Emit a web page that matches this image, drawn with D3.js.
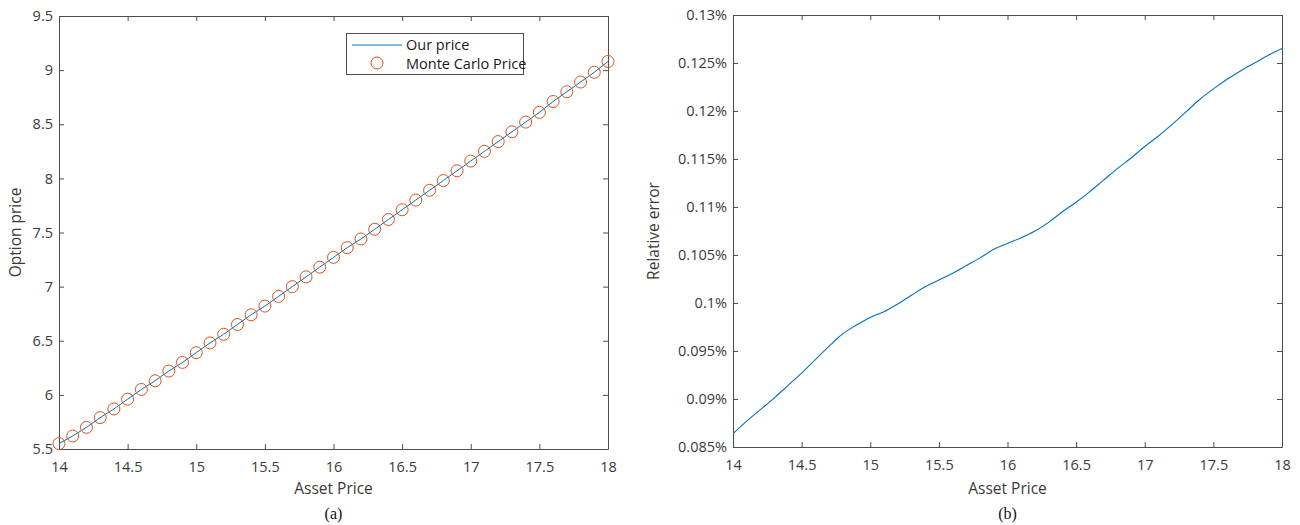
<!DOCTYPE html>
<html><head><meta charset="utf-8">
<script src="https://cdn.jsdelivr.net/npm/d3@7"></script>
<style>
html,body{margin:0;padding:0;background:#fff;}
svg{display:block;}
text{font-family:"Open Sans",sans-serif;}
</style></head>
<body>
<svg id="chart" width="1300" height="525"></svg>
<script>
const assetPrice = [14.0,14.1,14.2,14.3,14.4,14.5,14.6,14.7,14.8,14.9,15.0,15.1,15.2,15.3,15.4,15.5,15.6,15.7,15.8,15.9,16.0,16.1,16.2,16.3,16.4,16.5,16.6,16.7,16.8,16.9,17.0,17.1,17.2,17.3,17.4,17.5,17.6,17.7,17.8,17.9,18.0];
const ourPrice = [5.55,5.62,5.70,5.79,5.87,5.96,6.05,6.13,6.22,6.30,6.39,6.48,6.56,6.65,6.74,6.82,6.91,7.00,7.09,7.18,7.27,7.36,7.44,7.53,7.62,7.71,7.80,7.89,7.98,8.07,8.16,8.25,8.34,8.43,8.52,8.61,8.71,8.80,8.89,8.98,9.08];
const monteCarloPrice = [5.55,5.62,5.70,5.79,5.87,5.96,6.05,6.13,6.22,6.30,6.39,6.48,6.56,6.65,6.74,6.82,6.91,7.00,7.09,7.18,7.27,7.36,7.44,7.53,7.62,7.71,7.80,7.89,7.98,8.07,8.16,8.25,8.34,8.43,8.52,8.61,8.71,8.80,8.89,8.98,9.08];
const relativeError = [0.0864,0.0877,0.0889,0.0901,0.0914,0.0927,0.0941,0.0955,0.0968,0.0977,0.0985,0.0991,0.0999,0.1008,0.1017,0.1024,0.1031,0.1039,0.1047,0.1056,0.1062,0.1068,0.1075,0.1084,0.1095,0.1105,0.1116,0.1128,0.1140,0.1151,0.1163,0.1174,0.1186,0.1199,0.1212,0.1223,0.1233,0.1242,0.1250,0.1258,0.1265];
const xTicks = [14,14.5,15,15.5,16,16.5,17,17.5,18];
const yTicksA = [5.5,6,6.5,7,7.5,8,8.5,9,9.5];
const yTicksB = [0.085,0.09,0.095,0.1,0.105,0.11,0.115,0.12,0.125,0.13];
const legendLabels = ["Our price","Monte Carlo Price"];
const panelLabels = ["(a)","(b)"];

const svg = d3.select("#chart");
const axisColor = "#4d4d4d", textColor = "#3a3a3a";
const blue = "#0072BD", orange = "#D95319";

function panel(cfg){
  const g = svg.append("g");
  const x = d3.scaleLinear().domain([14,18]).range([cfg.left, cfg.right]);
  const y = d3.scaleLinear().domain(cfg.ydom).range([cfg.bottom, cfg.top]);
  const tl = 5;
  const bottom = g.append("g").attr("transform",`translate(0,${cfg.bottom})`)
    .call(d3.axisBottom(x).tickValues(xTicks).tickFormat(d3.format("~g")).tickSizeInner(-tl).tickSizeOuter(0).tickPadding(13));
  const top = g.append("g").attr("transform",`translate(0,${cfg.top})`)
    .call(d3.axisTop(x).tickValues(xTicks).tickFormat("").tickSizeInner(-tl).tickSizeOuter(0));
  const left = g.append("g").attr("transform",`translate(${cfg.left},0)`)
    .call(d3.axisLeft(y).tickValues(cfg.yticks).tickFormat(cfg.yfmt).tickSizeInner(-tl).tickSizeOuter(0).tickPadding(6));
  const right = g.append("g").attr("transform",`translate(${cfg.right},0)`)
    .call(d3.axisRight(y).tickValues(cfg.yticks).tickFormat("").tickSizeInner(-tl).tickSizeOuter(0));
  [bottom,top,left,right].forEach(a=>{
    a.select(".domain").attr("stroke",axisColor).attr("stroke-width",1);
    a.selectAll(".tick line").attr("stroke",axisColor);
    a.selectAll(".tick text").attr("fill",textColor).style("font-size","14.5px").style("font-family","'Open Sans',sans-serif");
  });
  g.append("text").attr("x",(cfg.left+cfg.right)/2).attr("y",494).attr("text-anchor","middle")
    .attr("fill",textColor).style("font-size","15.5px").text("Asset Price");
  g.append("text").attr("transform",`translate(${cfg.ylabX},${(cfg.top+cfg.bottom)/2}) rotate(-90)`)
    .attr("text-anchor","middle").attr("fill",textColor).style("font-size","15.5px").text(cfg.ylabel);
  g.append("text").attr("x",(cfg.left+cfg.right)/2).attr("y",519).attr("text-anchor","middle")
    .attr("fill","#111").style("font-family","'Liberation Serif',serif").style("font-size","16px").text(cfg.panel);
  return {g,x,y};
}

const A = panel({left:59,right:608,top:16,bottom:449,ydom:[5.5,9.5],yticks:yTicksA,yfmt:d3.format("~g"),ylabel:"Option price",ylabX:21,panel:panelLabels[0]});
const lineA = d3.line().x((d,i)=>A.x(assetPrice[i])).y(d=>A.y(d));
A.g.append("path").datum(ourPrice).attr("d",lineA).attr("fill","none").attr("stroke",blue).attr("stroke-width",1);
A.g.selectAll("circle.mc").data(monteCarloPrice).join("circle").attr("class","mc")
  .attr("cx",(d,i)=>A.x(assetPrice[i])).attr("cy",d=>A.y(d)).attr("r",6)
  .attr("fill","none").attr("stroke",orange).attr("stroke-width",1);
const lg = A.g.append("g");
lg.append("rect").attr("x",346.5).attr("y",33.5).attr("width",177).attr("height",41)
  .attr("fill","#fff").attr("stroke",axisColor).attr("stroke-width",1);
lg.append("line").attr("x1",352).attr("x2",402).attr("y1",45).attr("y2",45).attr("stroke",blue).attr("stroke-width",1);
lg.append("circle").attr("cx",377).attr("cy",63).attr("r",6).attr("fill","none").attr("stroke",orange).attr("stroke-width",1);
lg.selectAll("text").data(legendLabels).join("text").attr("x",406).attr("y",(d,i)=>50+i*18.5)
  .attr("fill","#1a1a1a").style("font-size","14.5px").text(d=>d);

const B = panel({left:733,right:1282,top:15,bottom:447,ydom:[0.085,0.13],yticks:yTicksB,yfmt:d=>d3.format("~g")(+d.toFixed(4))+"%",ylabel:"Relative error",ylabX:659,panel:panelLabels[1]});
const lineB = d3.line().x((d,i)=>B.x(assetPrice[i])).y(d=>B.y(d)).curve(d3.curveMonotoneX);
B.g.append("path").datum(relativeError).attr("d",lineB).attr("fill","none").attr("stroke",blue).attr("stroke-width",1.1);
</script>
</body></html>
